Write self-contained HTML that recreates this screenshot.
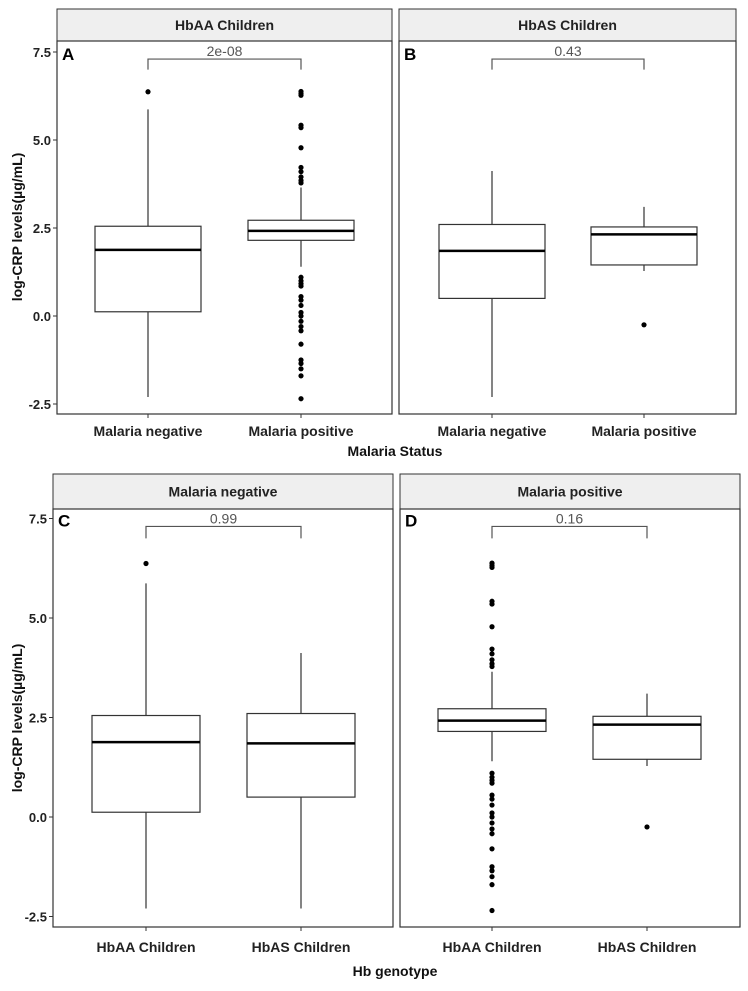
<!DOCTYPE html>
<html><head><meta charset="utf-8"><style>
body{margin:0;background:#fff}
svg{display:block;font-family:"Liberation Sans",sans-serif}
</style></head><body>
<svg id="chart" width="748" height="991" viewBox="0 0 748 991">
<text x="0" y="0" font-size="14" font-weight="bold" fill="#111" transform="translate(22,227) rotate(-90)" text-anchor="middle">log-CRP levels(µg/mL)</text>
<text x="0" y="0" font-size="14" font-weight="bold" fill="#111" transform="translate(22,718) rotate(-90)" text-anchor="middle">log-CRP levels(µg/mL)</text>
<text x="395" y="456" font-size="14" font-weight="bold" fill="#111" text-anchor="middle">Malaria Status</text>
<text x="395" y="976" font-size="14" font-weight="bold" fill="#111" text-anchor="middle">Hb genotype</text>
</svg>
<script>
// Box stats: [lowerWhisker, q1, median, q3, upperWhisker]
const groupA_neg = [-2.3, 0.12, 1.88, 2.55, 5.87];
const groupA_pos = [1.4, 2.15, 2.42, 2.72, 3.65];
const groupB_neg = [-2.3, 0.5, 1.85, 2.6, 4.12];
const groupB_pos = [1.28, 1.45, 2.32, 2.53, 3.1];
const outA_neg = [6.37];
const outA_pos = [6.38, 6.32, 6.27, 5.42, 5.35, 4.78, 4.22, 4.1, 3.95, 3.85, 3.78, 1.1, 1.0, 0.92, 0.85, 0.55, 0.45, 0.3, 0.1, 0.0, -0.15, -0.3, -0.42, -0.8, -1.25, -1.35, -1.5, -1.7, -2.35];
const outB_neg = [];
const outB_pos = [-0.25];
const yTicks = [-2.5, 0.0, 2.5, 5.0, 7.5];
const yTickLabels = ["-2.5", "0.0", "2.5", "5.0", "7.5"];
const pvalues = ["2e-08", "0.43", "0.99", "0.16"];
const stripTitles = ["HbAA Children", "HbAS Children", "Malaria negative", "Malaria positive"];
const panelLetters = ["A", "B", "C", "D"];
const catsTop = ["Malaria negative", "Malaria positive"];
const catsBottom = ["HbAA Children", "HbAS Children"];
const bracketY = 7.3, bracketTick = 7.0;

const svg = document.getElementById('chart');
const NS = 'http://www.w3.org/2000/svg';
function mk(tag, attrs, parent){const e=document.createElementNS(NS,tag);for(const k in attrs)e.setAttribute(k,attrs[k]);(parent||svg).appendChild(e);return e;}

const panels = [
 {l:57,r:392,st:9,sb:41,pb:414,y0:316,k:35.2,c:[148,301],hw:53,data:[groupA_neg,groupA_pos],out:[outA_neg,outA_pos],cats:catsTop,axis:true,labY:436},
 {l:399,r:736,st:9,sb:41,pb:414,y0:316,k:35.2,c:[492,644],hw:53,data:[groupB_neg,groupB_pos],out:[outB_neg,outB_pos],cats:catsTop,axis:false,labY:436},
 {l:53,r:393,st:474,sb:509,pb:927,y0:817,k:39.8,c:[146,301],hw:54,data:[groupA_neg,groupB_neg],out:[outA_neg,outB_neg],cats:catsBottom,axis:true,labY:952},
 {l:400,r:740,st:474,sb:509,pb:927,y0:817,k:39.8,c:[492,647],hw:54,data:[groupA_pos,groupB_pos],out:[outA_pos,outB_pos],cats:catsBottom,axis:false,labY:952}
];

panels.forEach((p,i)=>{
 const y = v => p.y0 - v*p.k;
 const g = mk('g',{});
 
 
 const strip = mk('rect',{x:p.l,y:p.st,width:p.r-p.l,height:p.sb-p.st,fill:'#efefef',stroke:'#333','stroke-width':1},g);
 
 
 const st = mk('text',{x:(p.l+p.r)/2,y:(p.st+p.sb)/2+5,'font-size':14,'font-weight':'bold','text-anchor':'middle',fill:'#222'},g);
 st.textContent = stripTitles[i];
 
 
 const frame = mk('rect',{x:p.l,y:p.sb,width:p.r-p.l,height:p.pb-p.sb,fill:'none',stroke:'#333','stroke-width':1.2},g);
 
 
 const lt = mk('text',{x:p.l+5,y:y(7.5)+8,'font-size':17,'font-weight':'bold',fill:'#000'},g);
 lt.textContent = panelLetters[i];
 
 
 if(p.axis){
  yTicks.forEach((t,j)=>{
   mk('line',{x1:p.l-4,x2:p.l,y1:y(t),y2:y(t),stroke:'#333'},g);
   const tl = mk('text',{x:p.l-6,y:y(t)+5,'font-size':13,'font-weight':'bold','text-anchor':'end',fill:'#222'},g);
   tl.textContent = yTickLabels[j];
   
   
  });
 }
 const br = mk('path',{d:`M${p.c[0]},${y(bracketTick)}V${y(bracketY)}H${p.c[1]}V${y(bracketTick)}`,fill:'none',stroke:'#555','stroke-width':1.2},g);
 
 
 const pv = mk('text',{x:(p.c[0]+p.c[1])/2,y:y(bracketY)-3,'font-size':14,'text-anchor':'middle',fill:'#555'},g);
 pv.textContent = pvalues[i];
 
 
 p.data.forEach((d,j)=>{
  const cx = p.c[j];
  mk('line',{x1:cx,x2:cx,y1:p.pb,y2:p.pb+4,stroke:'#333'},g);
  const xl = mk('text',{x:cx,y:p.labY,'font-size':14,'font-weight':'bold','text-anchor':'middle',fill:'#222'},g);
  xl.textContent = p.cats[j];
  
  
  const wh = mk('path',{d:`M${cx},${y(d[4])}V${y(d[3])}M${cx},${y(d[1])}V${y(d[0])}`,stroke:'#333','stroke-width':1.2,fill:'none'},g);
  
  
  const bx = mk('rect',{x:cx-p.hw,y:y(d[3]),width:2*p.hw,height:y(d[1])-y(d[3]),fill:'#fff',stroke:'#333','stroke-width':1.2},g);
  
  
  const md = mk('line',{x1:cx-p.hw,x2:cx+p.hw,y1:y(d[2]),y2:y(d[2]),stroke:'#000','stroke-width':2.5},g);
  
  
  p.out[j].forEach(v=>{
   const o = mk('circle',{cx:cx,cy:y(v),r:2.6,fill:'#000'},g);
   
   
  });
 });
});
</script>
</body></html>
